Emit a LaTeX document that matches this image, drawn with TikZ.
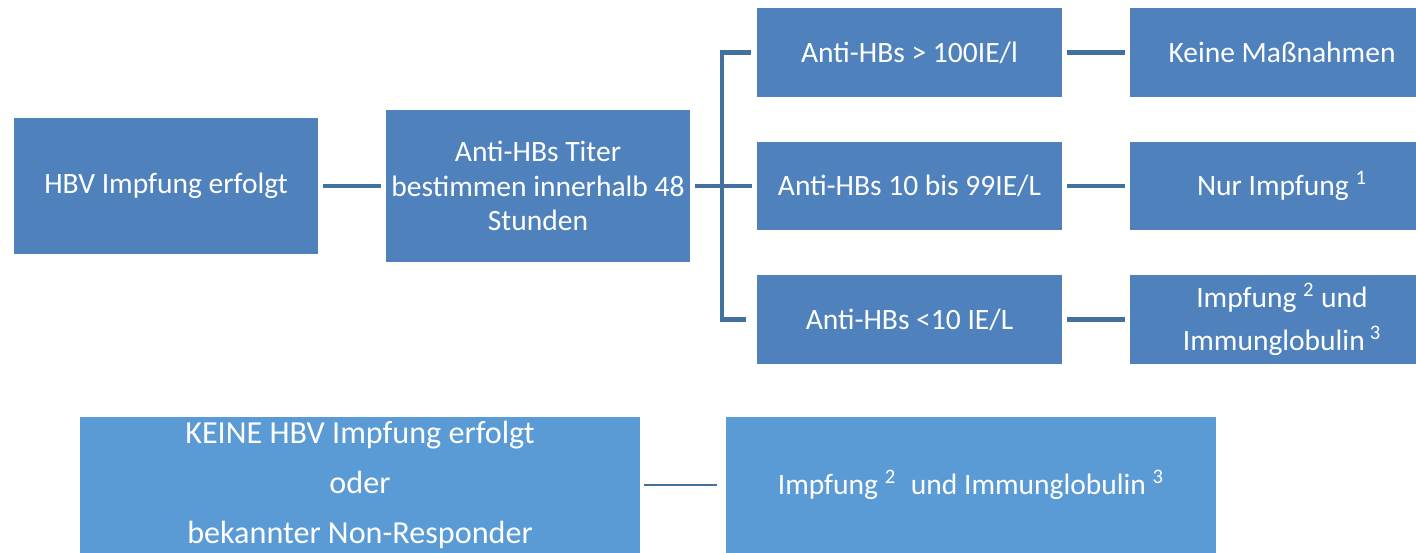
\documentclass[tikz,border=0pt]{standalone}
\usepackage{fontspec}
\setmainfont{Carlito}
\definecolor{boxblue}{HTML}{4F81BD}
\definecolor{lightblue}{HTML}{5B9BD5}
\definecolor{linkblue}{HTML}{41719C}
\tikzset{
    box/.style={fill=boxblue, text=white, inner sep=0pt, align=center,
        font=\fontsize{16.8}{19.5}\selectfont},
    lowbox/.style={box, fill=lightblue},
    link/.style={draw=linkblue, line width=2.8pt, shorten <=1mm, shorten >=1mm},
}
\begin{document}
\begin{tikzpicture}[x=0.02cm,y=-0.02cm]
    \useasboundingbox (0,0) rectangle (1416,553);
    \clip (0,0) rectangle (1416,553);
    % Obere Reihe: geimpft
    \node[box, minimum width=6.08cm, minimum height=2.72cm] (hbv) at (166,186) {HBV Impfung erfolgt};
    \node[box, minimum width=6.08cm, minimum height=3.04cm] (titer) at (538,186)
        {Anti-HBs Titer\\bestimmen innerhalb 48\\Stunden};
    \node[box, minimum width=6.1cm, minimum height=1.78cm] (a1) at (909.5,52.5) {Anti-HBs > 100IE/l};
    \node[box, minimum width=6.1cm, minimum height=1.78cm] (a2) at (909.5,186) {Anti-HBs 10 bis 99IE/L};
    \node[box, minimum width=6.1cm, minimum height=1.78cm] (a3) at (909.5,319.5) {Anti-HBs <10 IE/L};
    \node[box, minimum width=6.08cm, minimum height=1.78cm] (r1) at (1282,52.5) {Keine Maßnahmen};
    \node[box, minimum width=6.08cm, minimum height=1.78cm] (r2) at (1282,186) {Nur Impfung \textsuperscript{1}};
    \node[box, minimum width=6.08cm, minimum height=1.78cm] (r3) at (1282,319.5)
        {Impfung \textsuperscript{2} und\\[5pt]Immunglobulin\,\textsuperscript{3}};
    \coordinate (fork) at (722,186);

    \draw[link] (hbv) -- (titer);
    \draw[link, shorten >=0pt] (titer.east) -- (fork);
    \draw[link, shorten <=0pt, line join=miter] ([xshift=-1.2mm]a1.west) -| (fork |- a3.west) -- ([xshift=-1.2mm]a3.west);
    \draw[link, shorten <=0pt] (fork) -- (a2.west);
    \foreach \i in {1,2,3} {
        \draw[link] (a\i) -- (r\i);
    }

    % Untere Reihe: nicht geimpft
    \node[lowbox, minimum width=11.2cm, minimum height=2.72cm, font=\fontsize{18.3}{21}\selectfont] (keine) at (360,485)
        {KEINE HBV Impfung erfolgt\\[7.5pt]oder\\[7.5pt]bekannter Non-Responder};
    \node[lowbox, minimum width=9.8cm, minimum height=2.72cm] (beide) at (971,485)
        {Impfung \textsuperscript{2}\enspace und Immunglobulin \textsuperscript{3}};
    \draw[draw=linkblue, line width=1.1pt, shorten <=0.8mm, shorten >=1.8mm] (keine) -- (beide);
\end{tikzpicture}
\end{document}
